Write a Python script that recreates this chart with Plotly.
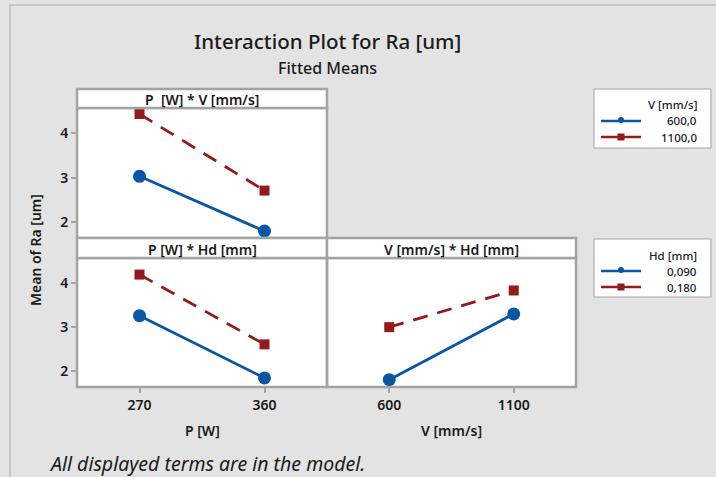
import plotly.graph_objects as go

# ---- data: fitted means of Ra [um] ----
p_levels = [270, 360]          # P [W]
v_levels = [600, 1100]         # V [mm/s]

# P [W] * V [mm/s]
ra_pv_v600 = [3.03, 1.80]
ra_pv_v1100 = [4.43, 2.71]
# P [W] * Hd [mm]
ra_phd_hd090 = [3.26, 1.85]
ra_phd_hd180 = [4.19, 2.61]
# V [mm/s] * Hd [mm]
ra_vhd_hd090 = [1.81, 3.30]
ra_vhd_hd180 = [3.00, 3.83]

y_ticks = [2, 3, 4]
legend_v = ["600,0", "1100,0"]
legend_hd = ["0,090", "0,180"]

W, H = 716, 477
BLUE = "#0a56a6"
RED = "#951a1a"
FRAME = "#a3a3a3"
BG = "#e3e3e3"
TXT = "#1a1a1a"
FONT = "Noto Sans"


def px(x):
    return x / W


def py(y):
    return 1 - y / H


def f(size, weight=600):
    return dict(family=FONT, size=size, color=TXT, weight=weight)


fig = go.Figure()


def add_pair(xvals, low, high, xa, ya):
    fig.add_trace(go.Scatter(
        x=xvals, y=low, xaxis=xa, yaxis=ya, mode="lines+markers",
        line=dict(color=BLUE, width=2.8),
        marker=dict(symbol="circle", size=13, color=BLUE),
        showlegend=False, hoverinfo="skip"))
    fig.add_trace(go.Scatter(
        x=xvals, y=high, xaxis=xa, yaxis=ya, mode="lines+markers",
        line=dict(color=RED, width=2.8, dash="15px,10px"),
        marker=dict(symbol="square", size=10, color=RED),
        showlegend=False, hoverinfo="skip"))


add_pair(p_levels, ra_pv_v600, ra_pv_v1100, "x", "y")
add_pair(p_levels, ra_phd_hd090, ra_phd_hd180, "x2", "y2")
add_pair(v_levels, ra_vhd_hd090, ra_vhd_hd180, "x3", "y3")

# panel geometry in pixels
LX0, LX1, RX1 = 77, 327, 576
TOP_STRIP, TOP_PLOT, MID, BOT_PLOT, BOT = 89, 108, 238, 258, 387

yrange = [1.645, 4.565]
p_range = [p_levels[0] - 45, p_levels[1] + 45]
v_range = [v_levels[0] - 250, v_levels[1] + 250]

axis_common = dict(showgrid=False, zeroline=False, showline=False,
                   tickfont=f(14))
tick_on = dict(ticks="outside", ticklen=5, tickwidth=2, tickcolor=FRAME)

fig.update_layout(
    xaxis=dict(domain=[px(LX0), px(LX1)], range=p_range, anchor="y",
               showticklabels=False, ticks="", **axis_common),
    yaxis=dict(domain=[py(MID), py(TOP_PLOT)], range=yrange, anchor="x",
               tickvals=y_ticks, **tick_on, **axis_common),
    xaxis2=dict(domain=[px(LX0), px(LX1)], range=p_range, anchor="y2",
                tickvals=p_levels, **tick_on, **axis_common),
    yaxis2=dict(domain=[py(BOT), py(BOT_PLOT)], range=yrange, anchor="x2",
                tickvals=y_ticks, **tick_on, **axis_common),
    xaxis3=dict(domain=[px(LX1), px(RX1)], range=v_range, anchor="y3",
                tickvals=v_levels, **tick_on, **axis_common),
    yaxis3=dict(domain=[py(BOT), py(BOT_PLOT)], range=yrange, anchor="x3",
                showticklabels=False, ticks="", **axis_common),
)

shapes = []
annotations = []

# outer frame
shapes.append(dict(type="rect", xref="paper", yref="paper",
                   x0=px(10), x1=px(W + 20), y0=py(H + 20), y1=py(5),
                   line=dict(color="#c6c6c6", width=2), fillcolor="rgba(0,0,0,0)",
                   layer="below"))

# plot-area frames
for x0, x1, y0, y1 in [(LX0, LX1, TOP_PLOT, MID), (LX0, LX1, BOT_PLOT, BOT),
                       (LX1, RX1, BOT_PLOT, BOT)]:
    shapes.append(dict(type="rect", xref="paper", yref="paper",
                       x0=px(x0), x1=px(x1), y0=py(y1), y1=py(y0),
                       fillcolor="rgba(0,0,0,0)", line=dict(color=FRAME, width=2.5)))

# strip headers
strips = [
    (LX0, LX1, TOP_STRIP, TOP_PLOT, "P  [W] * V [mm/s]"),
    (LX0, LX1, MID, BOT_PLOT, "P [W] * Hd [mm]"),
    (LX1, RX1, MID, BOT_PLOT, "V [mm/s] * Hd [mm]"),
]
for x0, x1, y0, y1, label in strips:
    shapes.append(dict(type="rect", xref="paper", yref="paper",
                       x0=px(x0), x1=px(x1), y0=py(y1), y1=py(y0),
                       fillcolor="white", line=dict(color=FRAME, width=2.5)))
    annotations.append(dict(xref="paper", yref="paper", x=px((x0 + x1) / 2),
                            y=py((y0 + y1) / 2 + 1), text=label, showarrow=False,
                            xanchor="center", yanchor="middle", font=f(14)))

# titles
annotations += [
    dict(xref="paper", yref="paper", x=px(327), y=py(41), text="Interaction Plot for Ra [um]",
         showarrow=False, xanchor="center", yanchor="middle", font=f(20.5, 500)),
    dict(xref="paper", yref="paper", x=px(327), y=py(68), text="Fitted Means",
         showarrow=False, xanchor="center", yanchor="middle", font=f(16, 500)),
    dict(xref="paper", yref="paper", x=px(35), y=py(250), text="Mean of Ra [um]",
         showarrow=False, textangle=-90, xanchor="center", yanchor="middle", font=f(14)),
    dict(xref="paper", yref="paper", x=px((LX0 + LX1) / 2), y=py(430), text="P [W]",
         showarrow=False, xanchor="center", yanchor="middle", font=f(14)),
    dict(xref="paper", yref="paper", x=px((LX1 + RX1) / 2), y=py(430), text="V [mm/s]",
         showarrow=False, xanchor="center", yanchor="middle", font=f(14)),
    dict(xref="paper", yref="paper", x=px(47), y=py(463),
         text="<i>All displayed terms are in the model.</i>",
         showarrow=False, xanchor="left", yanchor="middle", font=f(19.5, 400)),
]


# legend boxes
def legend_box(y_top, y_bot, title, labels):
    shapes.append(dict(type="rect", xref="paper", yref="paper",
                       x0=px(594), x1=px(711), y0=py(y_bot), y1=py(y_top),
                       fillcolor="white", line=dict(color=FRAME, width=1)))
    annotations.append(dict(xref="paper", yref="paper", x=px(699), y=py(y_top + 16),
                            text=title, showarrow=False, xanchor="right", yanchor="middle",
                            font=f(11.5, 500)))
    for i, (lab, col) in enumerate(zip(labels, [BLUE, RED])):
        yy = y_top + 32 + 16 * i
        shapes.append(dict(type="line", xref="paper", yref="paper",
                           x0=px(601), x1=px(641), y0=py(yy), y1=py(yy),
                           line=dict(color=col, width=2.5)))
        if i == 0:
            shapes.append(dict(type="circle", xref="paper", yref="paper",
                               x0=px(618), x1=px(624), y0=py(yy + 2), y1=py(yy - 4),
                               fillcolor=col, line=dict(color=col, width=0)))
        else:
            shapes.append(dict(type="rect", xref="paper", yref="paper",
                               x0=px(617.5), x1=px(624.5), y0=py(yy + 3.5), y1=py(yy - 3.5),
                               fillcolor=col, line=dict(color=col, width=0)))
        annotations.append(dict(xref="paper", yref="paper", x=px(699), y=py(yy),
                                text=lab, showarrow=False, xanchor="right", yanchor="middle",
                                font=f(11.5, 500)))


legend_box(89, 148, "V [mm/s]", legend_v)
legend_box(239, 297, "Hd [mm]", legend_hd)

fig.update_layout(
    width=W, height=H, autosize=False,
    margin=dict(l=0, r=0, t=0, b=0),
    paper_bgcolor=BG, plot_bgcolor="white",
    showlegend=False,
    shapes=shapes, annotations=annotations,
    font=dict(family=FONT, color=TXT),
)

fig.write_html("out.html")
